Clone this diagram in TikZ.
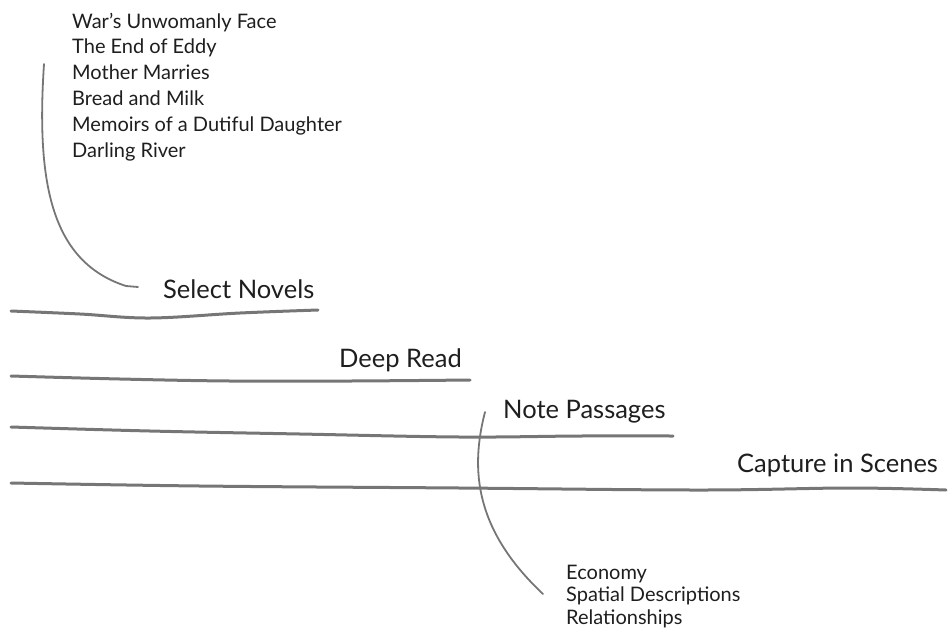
\documentclass[tikz,border=0pt]{standalone}
\usepackage{fontspec}
\setmainfont{Lato}
\begin{document}
\begin{tikzpicture}[x=1pt,y=-1pt,
  stroke/.style={draw={rgb,255:red,118;green,118;blue,118},line width=3pt,line cap=round},
  thinstroke/.style={draw={rgb,255:red,118;green,118;blue,118},line width=1.8pt,line cap=round},
  biglabel/.style={anchor=base west,inner sep=0pt,font=\fontsize{25.5}{30}\selectfont,text={rgb,255:red,30;green,30;blue,30}},
  listtop/.style={anchor=base west,inner sep=0pt,align=left,font=\fontsize{20}{25.8}\selectfont,text={rgb,255:red,30;green,30;blue,30}},
  listbot/.style={anchor=base west,inner sep=0pt,align=left,font=\fontsize{20}{22.5}\selectfont,text={rgb,255:red,30;green,30;blue,30}}]
\useasboundingbox (0,0) rectangle (949,635);
% lists (anchored at the baseline of the last line)
\node[listtop] (novels) at (72,157) {War's Unwomanly Face\\The End of Eddy\\Mother Marries\\Bread and Milk\\Memoirs of a Dutiful Daughter\\Darling River};
\node[listbot] (aspects) at (566,624) {Economy\\Spatial Descriptions\\Relationships};
% labels
\node[biglabel] (select) at (163,298) {Select Novels};
\node[biglabel] (deep) at (339,367) {Deep Read};
\node[biglabel] (note) at (503,418) {Note Passages};
\node[biglabel] (capture) at (737,472) {Capture in Scenes};
% underlines
\draw[stroke] plot[smooth,tension=0.6] coordinates {(11,311) (80,314) (150,318) (240,313) (318,310)};
\draw[stroke] plot[smooth,tension=0.6] coordinates {(11,376) (120,379) (230,381) (350,381) (470,380)};
\draw[stroke] plot[smooth,tension=0.6] coordinates {(11,427) (150,431) (300,434) (460,437) (580,436) (673,436)};
\draw[stroke] plot[smooth,tension=0.6] coordinates {(11,483) (200,486) (460,488) (700,490) (850,488) (946,490)};
% connectors
\coordinate (c1s) at (44,64);
\coordinate (c1e) at (138,287);
\coordinate (c2s) at (485,412);
\coordinate (c2e) at (543,594);
\draw[thinstroke] (c1s) .. controls (36,185) and (52,262) .. (126,286) -- (c1e);
\draw[thinstroke] (c2s) .. controls (470,470) and (475,530) .. (c2e);
\end{tikzpicture}
\end{document}
